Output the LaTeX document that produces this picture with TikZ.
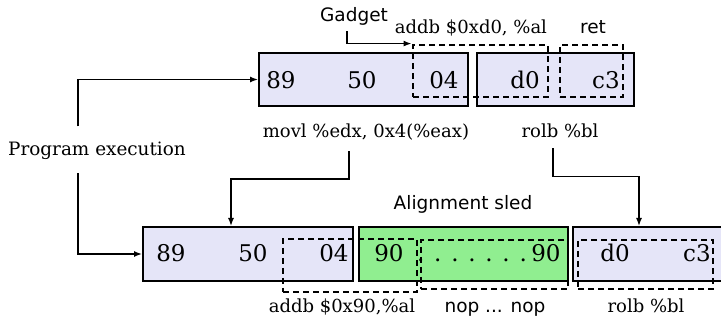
\documentclass[tikz,border=0pt]{standalone}
\usepackage{fontspec}
\setmainfont{DejaVu Serif}
\setsansfont{DejaVu Sans}
\usetikzlibrary{arrows.meta,calc}
\definecolor{cellblue}{HTML}{E5E5F8}
\definecolor{sledgreen}{HTML}{90EE90}
\begin{document}
\begin{tikzpicture}[x=1pt,y=-1pt,
  cell/.style={draw=black, line width=2pt, fill=cellblue, minimum width=#1,
    minimum height=53pt, inner sep=0pt},
  sled/.style={cell=#1, fill=sledgreen},
  insn/.style={draw=black, line width=2.9pt, dash pattern=on 6pt off 4pt,
    minimum width=#1, inner sep=0pt},
  byte/.style={anchor=base, inner sep=0pt, font=\fontsize{23}{26}\selectfont},
  asm/.style={anchor=base, inner sep=0pt, font=\fontsize{18}{21}\selectfont},
  tag/.style={anchor=base, inner sep=0pt, font=\sffamily\fontsize{18.5}{21}\selectfont},
  arr/.style={-{Latex[length=8pt,width=6pt]}, line width=1.4pt}]
\clip (0,0) rectangle (721,320);

% byte cells, first layout
\node[cell=209pt] (b1) at (363.5,79.5) {};
\node[cell=157pt] (b2) at (555.5,79.5) {};
% byte cells, layout with the alignment sled
\node[cell=210pt, minimum height=54pt] (b3) at (248,254) {};
\node[sled=209pt, minimum height=54pt] (b4) at (463.5,254) {};
\node[cell=157pt, minimum height=54pt] (b5) at (651.5,254) {};

% instruction boundaries
\node[insn=135pt, minimum height=52pt] (gadd) at (480.5,71) {};
\node[insn=63pt, minimum height=52pt] (gret) at (591.5,71) {};
\node[insn=134pt, minimum height=53pt] (badd) at (350,265.5) {};
\node[insn=147pt, minimum height=49pt] (bnop) at (494.5,264.5) {};
\node[insn=135pt, minimum height=49pt] (brol) at (645.5,264.5) {};

% byte values
\node[byte] (t89) at (281,89) {89};
\node[byte] (t50) at (362,89) {50};
\node[byte] (t04) at (444,89) {04};
\node[byte] (td0) at (525,89) {d0};
\node[byte] (tc3) at (606,89) {c3};

\node[byte] (u89) at (171,262) {89};
\node[byte] (u50) at (253,262) {50};
\node[byte] (u04) at (334,262) {04};
\node[byte] (u90a) at (389,262) {90};
\node[byte] (udots) at (472,262) {. . . . . . .};
\node[byte] (u90b) at (546,262) {90};
\node[byte] (ud0) at (615,262) {d0};
\node[byte] (uc3) at (697,262) {c3};

% decoded instructions
\node[tag] (gadget) at (354,22) {Gadget};
\node[asm] (addtop) at (471,34) {addb \$0xd0, \%al};
\node[tag] (ret) at (593,34) {ret};
\node[asm] (movl) at (366,138) {movl \%edx, 0x4(\%eax)};
\node[asm] (roltop) at (560,138) {rolb \%bl};
\node[tag] (sledlbl) at (463,210) {Alignment sled};
\node[asm] (addbot) at (342,313) {addb \$0x90,\%al};
\node[tag] (nops) at (495,313) {nop ... nop};
\node[asm] (rolbot) at (646,313) {rolb \%bl};
\node[asm, font=\fontsize{18.4}{21}\selectfont] (prog) at (97,156) {Program execution};

% control flow
\draw[arr] ($(gadget.south)+(-7,5)$) |- (gadd.north west);
\draw[arr] ($(prog.north)+(-19,-16)$) |- (b1.west);
\draw[arr] ($(prog.south)+(-19,13)$) |- (b3.west);
\draw[arr] ($(movl.south)+(-17,10)$) -- ++(0,28) -| ($(b3.north west)+(89,0)$);
\draw[arr] ($(roltop.south)+(-7,10)$) -- ++(0,28) -| ($(b5.north west)+(67,0)$);
\end{tikzpicture}
\end{document}
